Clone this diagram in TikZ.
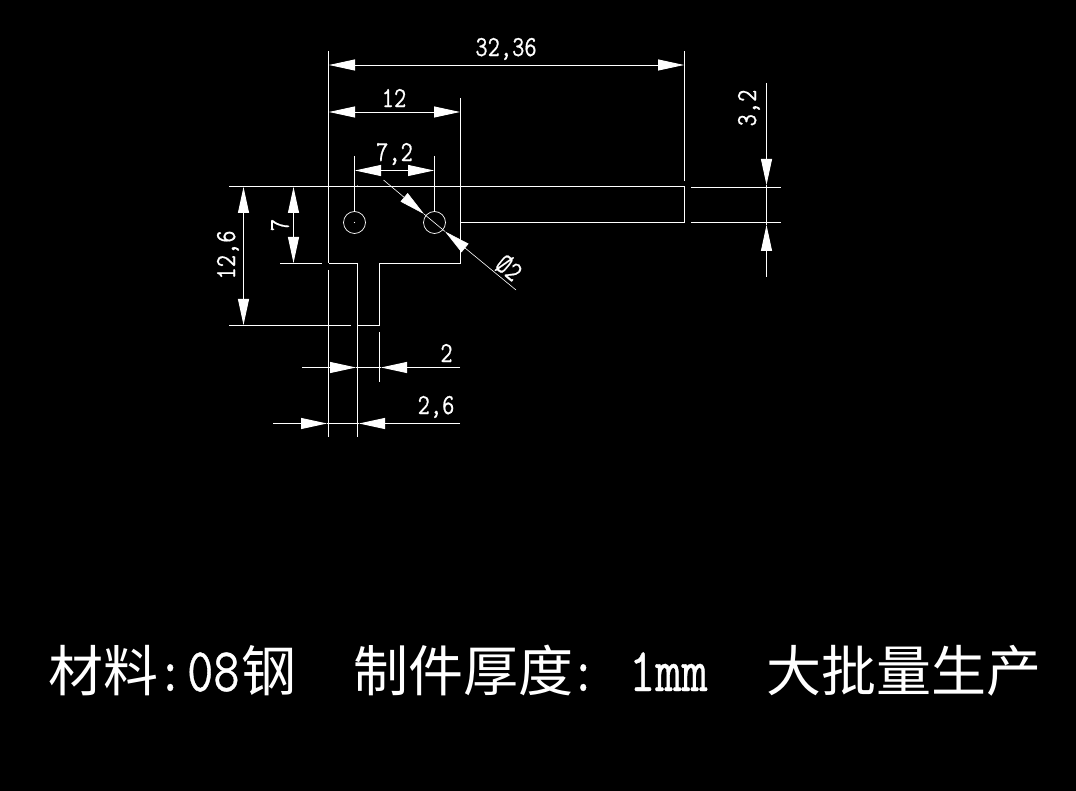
\documentclass[tikz,border=0pt]{standalone}
\usepackage{fontspec}
\newfontfamily\cjk{Noto Sans CJK SC}
\newfontfamily\cadmono[FakeBold=0.6]{Latin Modern Mono}
\usetikzlibrary{arrows.meta}
\tikzset{
  partline/.style={color=white, line width=1pt},
  extline/.style={color=white, line width=0.9pt},
  dimtip/.tip={Triangle[length=26pt,width=11pt]},
  dimline/.style={color=white, line width=0.9pt},
  dimlabel/.style={xscale=0.82, color=white, inner sep=0pt, font=\cadmono\fontsize{29}{30}\selectfont},
  bigcjk/.style={anchor=base west, color=white, inner sep=0pt, font=\cjk\fontsize{55}{60}\selectfont},
  biglatin/.style={anchor=base west, xscale=0.82, color=white, inner sep=0pt, font=\cadmono\fontsize{62}{66}\selectfont},
}
\begin{document}
\begin{tikzpicture}[x=1pt,y=-1pt]
\useasboundingbox (0,0) rectangle (1076,791);
\fill [color=black] (0,0) rectangle (1076,791);

\draw [partline] (328.5,187) -- (684.5,187) -- (684.5,222.5) -- (460.5,222.5);
\draw [partline] (460.5,187) -- (460.5,264) -- (420,264);
\draw [partline] (420,263.5) -- (379.5,263.5) -- (379.5,325.5) -- (357.5,325.5);
\draw [partline] (357.5,263.5) -- (328.5,263.5);
\draw [color=white, line width=0.7pt] (354.5,222.5) circle (11);
\draw [color=white, line width=0.7pt] (434.5,222.5) circle (11);
\fill [color=white] (354.5,222.5) circle (0.6);

\draw [extline] (328.5,51) -- (328.5,263);
\draw [extline] (328.5,270) -- (328.5,437);
\draw [extline] (357.5,263) -- (357.5,437);
\draw [extline] (379.5,332) -- (379.5,382);
\draw [extline] (684.5,51) -- (684.5,181);
\draw [extline] (460.5,98) -- (460.5,187);
\draw [extline] (354.5,156) -- (354.5,211);
\draw [extline] (434.5,156) -- (434.5,211);
\draw [extline] (229,186) -- (350,186);
\fill [color=white] (357.5,186) circle (0.6);
\draw [extline] (280,263.5) -- (322,263.5);
\draw [extline] (229,325.5) -- (351,325.5);
\draw [extline] (691,187) -- (781,187);
\draw [extline] (691,222.5) -- (781,222.5);

\draw [dimline, {dimtip}-{dimtip}] (329,65) -- (684,65);
\draw [dimline, {dimtip}-{dimtip}] (329,112) -- (460,112);
\draw [dimline, {dimtip}-{dimtip}] (355,170.5) -- (434,170.5);
\draw [dimline, {dimtip}-{dimtip}] (293.5,187) -- (293.5,263);
\draw [dimline, {dimtip}-{dimtip}] (243.5,187) -- (243.5,325);

\draw [dimline, -{dimtip}] (766.5,83) -- (766.5,185);
\draw [dimline] (766.5,185) -- (766.5,225);
\draw [dimline, -{dimtip}] (766.5,277) -- (766.5,225);

\draw [dimline, -{dimtip}] (302,367.5) -- (356,367.5);
\draw [dimline] (356,367.5) -- (381,367.5);
\draw [dimline, -{dimtip}] (460,367.5) -- (381,367.5);

\draw [dimline, -{dimtip}] (273,423.5) -- (327,423.5);
\draw [dimline] (327,423.5) -- (359,423.5);
\draw [dimline, -{dimtip}] (460,423.5) -- (359,423.5);

\draw [color=white, line width=0.6pt, -{dimtip}] (383.5,180) -- (424,214);
\draw [color=white, line width=0.6pt] (424,214) -- (445,231.5);
\draw [color=white, line width=0.6pt, -{dimtip}] (516,290) -- (445,231.5);

\node [dimlabel] (lengthlabel) at (506,49) {32,36};
\node [dimlabel] (widthlabel) at (394,98) {12};
\node [dimlabel] (pitchlabel) at (394.5,154) {7,2};
\node [rotate=90,dimlabel] (holelabel) at (280,225) {7};
\node [rotate=90,dimlabel] (heightlabel) at (228,255) {12,6};
\node [rotate=90,dimlabel] (barlabel) at (749,108) {3,2};
\node [rotate=-40,dimlabel] (dialabel) at (509,268) {Ø2};
\node [dimlabel] (stemlabel) at (446.5,353) {2};
\node [dimlabel] (offsetlabel) at (436,407) {2,6};

\node [bigcjk] (material) at (48,691) {材料};
\node [biglatin] (colona) at (157,691) {:};
\node [biglatin] (grade) at (187,691) {08};
\node [bigcjk] (steel) at (241,691) {钢};
\node [bigcjk] (thickness) at (353,691) {制件厚度};
\node [biglatin] (colonb) at (570,691) {:};
\node [biglatin] (gauge) at (629,691) {1mm};
\node [bigcjk] (batch) at (766,691) {大批量生产};

\end{tikzpicture}
\end{document}
